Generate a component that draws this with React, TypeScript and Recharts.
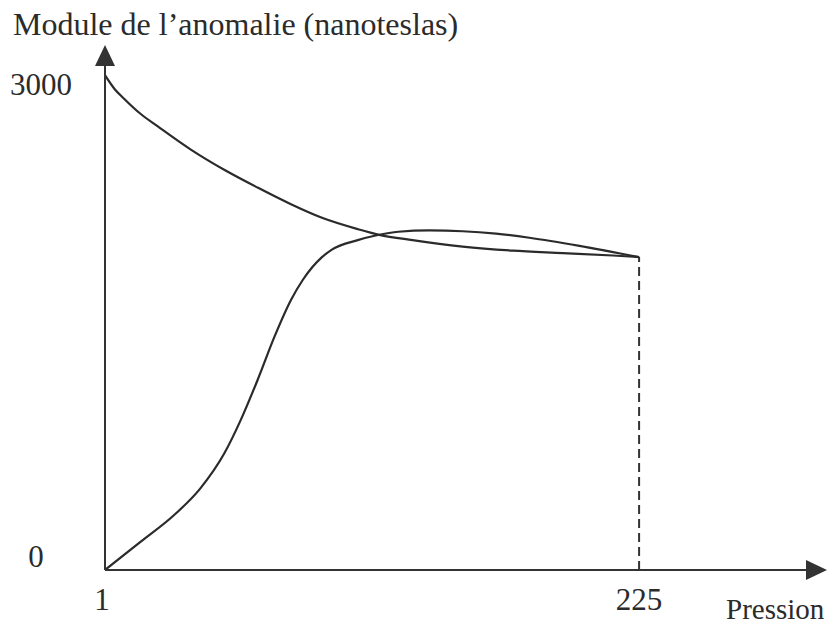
import { LineChart, Line, XAxis, YAxis, ReferenceLine } from 'recharts';

// pression values (x) and anomaly modules (nT)
const decreasingPressure = [1, 5, 9, 16, 23, 37, 51, 65, 79, 92, 107, 116, 130, 151, 172, 193, 214, 225];
const decreasingModule = [3060, 2975, 2915, 2820, 2745, 2600, 2475, 2365, 2262, 2178, 2108, 2073, 2040, 2000, 1975, 1960, 1945, 1935];

const increasingPressure = [1, 16, 30, 41, 51, 58, 65, 72, 79, 84, 92, 96, 107, 115, 124, 137, 151, 165, 179, 200, 225];
const increasingModule = [0, 175, 340, 505, 720, 930, 1175, 1440, 1670, 1795, 1935, 1980, 2040, 2070, 2092, 2100, 2095, 2080, 2055, 2005, 1935];

const xTicks = [1, 225];
const yTicks = [0, 3000];

const yTitle = 'Module de l\u2019anomalie (nanoteslas)';
const xTitle = 'Pression';

const decreasing = decreasingPressure.map((p, i) => ({ p, v: decreasingModule[i] }));
const increasing = increasingPressure.map((p, i) => ({ p, v: increasingModule[i] }));
const endPressure = decreasingPressure[decreasingPressure.length - 1];
const endModule = decreasingModule[decreasingModule.length - 1];

const INK = '#2b2b2b';
const FONT = '"Liberation Serif", "Times New Roman", serif';

function YTick({ y, payload }: any) {
  const isZero = payload.value === 0;
  return (
    <text
      x={isZero ? 36 : 41}
      y={isZero ? y - 3 : y + 10}
      textAnchor="middle"
      fontFamily={FONT}
      fontSize={31}
      fill={INK}
    >
      {payload.value}
    </text>
  );
}

function XTick({ x, payload }: any) {
  return (
    <text
      x={payload.value === 1 ? x - 3 : x}
      y={610}
      textAnchor="middle"
      fontFamily={FONT}
      fontSize={31}
      fill={INK}
    >
      {payload.value}
    </text>
  );
}

export default function App() {
  return (
    <div style={{ position: 'absolute', left: 0, top: 0, width: 833, height: 624, background: '#fff' }}>
      <svg width={0} height={0} style={{ position: 'absolute' }}>
        <defs>
          <marker
            id="arrowHead"
            markerUnits="userSpaceOnUse"
            markerWidth={21}
            markerHeight={20}
            refX={0}
            refY={10}
            orient="auto-start-reverse"
            style={{ overflow: 'visible' }}
          >
            <path d="M0,0 L21,10 L0,20 z" fill="#333" />
          </marker>
        </defs>
      </svg>
      <LineChart
        width={833}
        height={624}
        margin={{ top: 66, right: 27, bottom: 0, left: 0 }}
      >
        <XAxis
          type="number"
          dataKey="p"
          domain={[1, 295]}
          ticks={xTicks}
          tick={<XTick />}
          tickLine={false}
          height={54}
          allowDataOverflow
          axisLine={{ stroke: '#333', strokeWidth: 2, markerEnd: 'url(#arrowHead)' }}
          label={{
            content: () => (
              <text x={726} y={619} fontFamily={FONT} fontSize={29} fill={INK}>
                {xTitle}
              </text>
            ),
          }}
        />
        <YAxis
          type="number"
          dataKey="v"
          domain={[0, 3117]}
          ticks={yTicks}
          tick={<YTick />}
          tickLine={false}
          width={105}
          allowDataOverflow
          axisLine={{ stroke: '#333', strokeWidth: 2, markerStart: 'url(#arrowHead)' }}
          label={{
            content: () => (
              <text x={13} y={35} fontFamily={FONT} fontSize={32} fill={INK}>
                {yTitle}
              </text>
            ),
          }}
        />
        <ReferenceLine
          segment={[
            { x: endPressure, y: 0 },
            { x: endPressure, y: endModule },
          ]}
          stroke="#333"
          strokeWidth={2}
          strokeDasharray="9 5"
          ifOverflow="visible"
        />
        <Line
          data={decreasing}
          dataKey="v"
          type="monotone"
          stroke={INK}
          strokeWidth={2.2}
          dot={false}
          isAnimationActive={false}
        />
        <Line
          data={increasing}
          dataKey="v"
          type="monotone"
          stroke={INK}
          strokeWidth={2.2}
          dot={false}
          isAnimationActive={false}
        />
      </LineChart>
    </div>
  );
}
